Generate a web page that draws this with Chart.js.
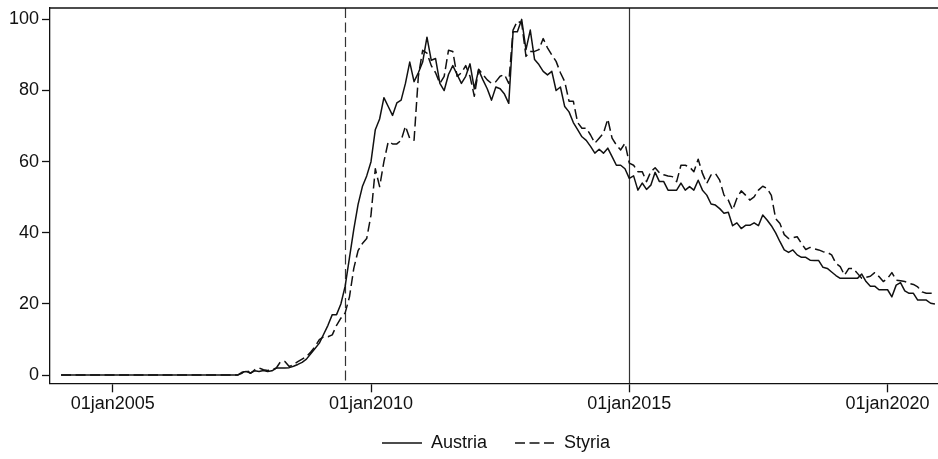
<!DOCTYPE html>
<html>
<head>
<meta charset="utf-8">
<script src="https://cdn.jsdelivr.net/npm/chart.js@4.4.1/dist/chart.umd.min.js"></script>
<style>
  html, body { margin: 0; padding: 0; background: #fff; }
  #wrap { width: 938px; height: 459px; position: relative; }
</style>
</head>
<body>
<div id="wrap"><canvas id="chart"></canvas></div>
<script>
/* ---- data (monthly, Jan 2004 - Dec 2020) ---- */
var startYear = 2004;
var seriesNames = ['Austria', 'Styria'];

var austria = [
  0, 0, 0, 0, 0, 0, 0, 0, 0, 0, 0, 0,                          // 2004
  0, 0, 0, 0, 0, 0, 0, 0, 0, 0, 0, 0,                          // 2005
  0, 0, 0, 0, 0, 0, 0, 0, 0, 0, 0, 0,                          // 2006
  0, 0, 0, 0, 0, 0, 0.8, 1.0, 0.6, 1.2, 1.0, 1.3,              // 2007
  1.0, 1.2, 2.0, 2.0, 2.0, 2.1, 2.5, 3.0, 3.6, 4.5, 6.0, 7.5,  // 2008
  9.0, 11.5, 14.0, 17.0, 17.0, 20.0, 25.0, 33.0, 41.0, 48.0, 53.0, 56.0, // 2009
  60, 69, 72, 78, 75.5, 73, 76.5, 77.3, 82, 88, 82.5, 85,      // 2010
  88, 95, 88.5, 89, 82, 80, 84.5, 87, 84.5, 82, 84, 87.5,      // 2011
  80.5, 85.8, 83, 80.5, 77.3, 81, 80.5, 79, 76.4, 96.5, 96.5, 100, // 2012
  91.5, 97, 88.7, 87.3, 85.4, 84.4, 85.4, 80, 81, 75.5, 74, 71, // 2013
  69, 67, 66, 64.3, 62.4, 63.5, 62.4, 63.8, 61.4, 59, 59, 58,  // 2014
  55.3, 56, 52, 54, 52.2, 53.4, 57, 54.4, 54.4, 52, 52, 52,    // 2015
  54, 52, 53, 52, 54.8, 52, 50.6, 48.1, 47.8, 46.8, 45.5, 45.8, // 2016
  42, 42.8, 41.2, 42.1, 42.1, 42.8, 42, 45, 43.6, 42, 40, 37.5, // 2017
  35.2, 34.5, 35.2, 33.8, 33.1, 33.1, 32.3, 32.2, 32.2, 30.3, 30, 29, // 2018
  28, 27.2, 27.2, 27.2, 27.2, 27.2, 28.4, 26.3, 25, 25, 24, 24, // 2019
  24, 22, 25.3, 26, 23.7, 23, 23, 21.1, 21.1, 21.1, 20.2, 20   // 2020
];

var styria = [
  0, 0, 0, 0, 0, 0, 0, 0, 0, 0, 0, 0,                          // 2004
  0, 0, 0, 0, 0, 0, 0, 0, 0, 0, 0, 0,                          // 2005
  0, 0, 0, 0, 0, 0, 0, 0, 0, 0, 0, 0,                          // 2006
  0, 0, 0, 0, 0, 0, 0.5, 1.5, 0.5, 1.5, 2.0, 1.5,              // 2007
  1.3, 1.5, 2.0, 3.8, 3.8, 2.4, 3.0, 3.8, 4.5, 5.2, 6.5, 8.0,  // 2008
  10.0, 10.8, 10.8, 11.3, 14.0, 16.0, 17.5, 22.0, 30.0, 35.0, 37.0, 38.4, // 2009
  45, 58, 53, 60, 65.6, 65, 65, 66, 70, 66.5, 66, 84,          // 2010
  91.3, 90.5, 87, 85, 82, 84, 91.3, 91, 84, 85, 87, 84,        // 2011
  78.4, 86, 84.5, 83, 82, 82.5, 84, 84.5, 82, 97, 99.5, 99,    // 2012
  89.6, 91, 91, 91.5, 94.6, 92, 90, 88.2, 85, 82.5, 77, 77,    // 2013
  71, 69.4, 69.4, 67.5, 65.2, 66.6, 68, 72, 66.6, 64.7, 63.3, 65.2, // 2014
  59.6, 59, 57.2, 57.2, 54.4, 57.2, 58.3, 56.9, 56.3, 56, 55.8, 54.4, // 2015
  59, 59, 58.5, 57.2, 60.7, 56.7, 53.9, 56.3, 56.7, 54.8, 50.6, 49.2, // 2016
  46.4, 49.7, 51.8, 50.6, 49.2, 50.1, 52, 53.1, 52.5, 50.5, 44, 42.6, // 2017
  39.5, 38.4, 38.6, 38.9, 37, 35.3, 35.9, 35.5, 35.2, 34.7, 34.5, 33.8, // 2018
  31.4, 30.5, 28.1, 30, 30, 28.6, 27.2, 27.5, 27.8, 28.8, 27.7, 26.3, // 2019
  27.2, 28.8, 26.7, 26.5, 26.3, 25.8, 25.5, 24.8, 23.4, 23, 23, 23    // 2020
];

// x categories: decimal year of each month
var months = [];
for (var m = 0; m < austria.length; m++) months.push(startYear + m / 12);

var xTickYears = [2005, 2010, 2015, 2020];
var xTickLabels = ['01jan2005', '01jan2010', '01jan2015', '01jan2020'];
var yTickValues = [0, 20, 40, 60, 80, 100];

// vertical reference lines (jul 2009 dashed, jan 2015 solid)
var refLineYears = [2009.5, 2015];
var refLineDashed = [true, false];

/* ---- chart ---- */
Chart.defaults.font.family = "'Liberation Sans', Arial, sans-serif";
Chart.defaults.font.size = 18;
Chart.defaults.color = '#111';

var INK = '#111';
var DASH = [10, 4.5];

function toPoints(values) {
  return values.map(function (v, i) { return { x: months[i], y: v }; });
}

var refLinePlugin = {
  id: 'refLines',
  afterLayout: function (chart) {
    // legend sits centred under the (wider, cropped) plot region;
    // only the top moves up so the clip box still reaches the bottom edge
    var lg = chart.legend;
    lg.left += 27; lg.right += 27;
    lg.top -= 13;
  },
  beforeDatasetsDraw: function (chart) {
    var ctx = chart.ctx, area = chart.chartArea, xs = chart.scales.x;
    ctx.save();
    refLineYears.forEach(function (yr, k) {
      var px = Math.round(xs.getPixelForValue(yr)) + 0.5;
      ctx.beginPath();
      ctx.lineWidth = 1.2;
      ctx.strokeStyle = '#333';
      ctx.setLineDash(refLineDashed[k] ? DASH : []);
      ctx.moveTo(px, area.top);
      ctx.lineTo(px, area.bottom);
      ctx.stroke();
    });
    // top outline of plot region
    ctx.setLineDash([]);
    ctx.lineWidth = 1.3;
    ctx.strokeStyle = INK;
    ctx.beginPath();
    ctx.moveTo(area.left, area.top);
    ctx.lineTo(chart.width, area.top);
    ctx.stroke();
    ctx.restore();
  }
};

new Chart(document.getElementById('chart'), {
  type: 'line',
  data: {
    datasets: [{
      label: seriesNames[0],
      data: toPoints(austria),
      borderColor: INK, backgroundColor: INK,
      borderWidth: 1.5, pointRadius: 0, tension: 0, fill: false,
      borderJoinStyle: 'round'
    }, {
      label: seriesNames[1],
      data: toPoints(styria),
      borderColor: INK, backgroundColor: INK,
      borderWidth: 1.5, borderDash: DASH, pointRadius: 0, tension: 0, fill: false,
      borderJoinStyle: 'round'
    }]
  },
  options: {
    responsive: true, maintainAspectRatio: false, animation: false, devicePixelRatio: 1,
    layout: { padding: { top: 8, left: 0, right: 0, bottom: 0 } },
    plugins: {
      tooltip: { enabled: false },
      legend: {
        position: 'bottom',
        maxHeight: 40,
        labels: {
          usePointStyle: true, pointStyle: 'line', pointStyleWidth: 40,
          padding: 28, color: INK, font: { size: 18 },
          generateLabels: function (chart) {
            var items = Chart.defaults.plugins.legend.labels.generateLabels(chart);
            items.forEach(function (it) {
              var ds = chart.data.datasets[it.datasetIndex];
              it.lineDash = ds.borderDash || [];
              it.lineWidth = 1.5;
              it.strokeStyle = INK;
            });
            return items;
          }
        }
      }
    },
    scales: {
      x: {
        type: 'linear', min: 2003.786, max: 2020.976,
        afterBuildTicks: function (s) { s.ticks = xTickYears.map(function (v) { return { value: v }; }); },
        afterFit: function (s) { s.height = 35.7; s.paddingLeft = 0; s.paddingRight = 0; },
        ticks: {
          autoSkip: false, maxRotation: 0, padding: 1, color: INK,
          callback: function (v) { return xTickLabels[xTickYears.indexOf(v)]; }
        },
        grid: { drawOnChartArea: false, tickLength: 9, color: INK, tickWidth: 1.3 },
        border: { color: INK, width: 1.3 }
      },
      y: {
        min: -2.3, max: 103.2,
        afterBuildTicks: function (s) { s.ticks = yTickValues.map(function (v) { return { value: v }; }); },
        afterFit: function (s) { s.width = 50; s.paddingTop = 0; s.paddingBottom = 0; },
        ticks: { padding: 3, color: INK },
        grid: { drawOnChartArea: false, tickLength: 8, color: INK, tickWidth: 1.3 },
        border: { color: INK, width: 1.3 }
      }
    }
  },
  plugins: [refLinePlugin]
});
</script>
</body>
</html>
